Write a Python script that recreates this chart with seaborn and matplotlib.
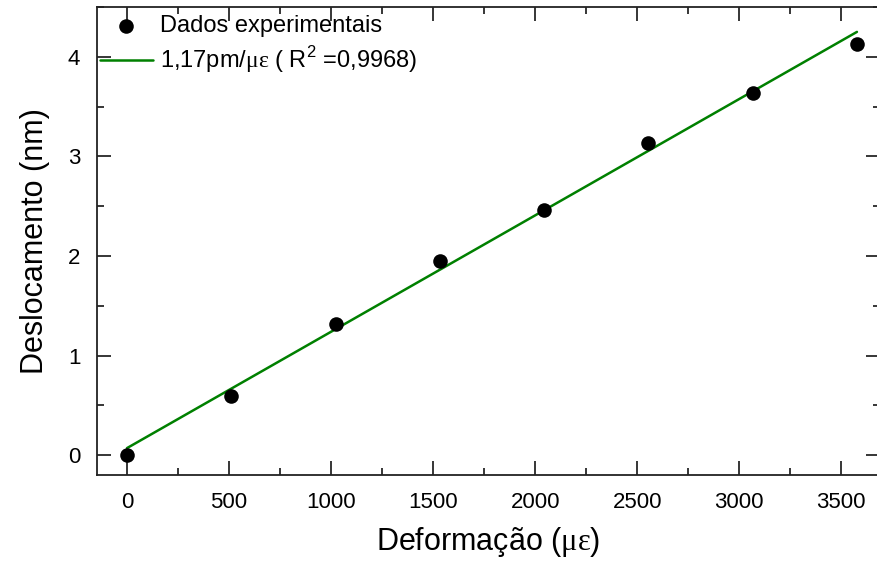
import matplotlib
matplotlib.use("Agg")
import matplotlib.pyplot as plt
import seaborn as sns
import pandas as pd
from matplotlib.ticker import MultipleLocator

sns.set_theme(style="ticks")
plt.rcParams['font.family'] = ['Liberation Sans', 'DejaVu Sans']
plt.rcParams['text.color'] = 'black'
plt.rcParams['axes.labelcolor'] = 'black'
plt.rcParams['mathtext.fontset'] = 'custom'
plt.rcParams['mathtext.rm'] = 'Liberation Serif'
plt.rcParams['mathtext.sf'] = 'Liberation Sans'

deformacao = [0, 511, 1022, 1533, 2044, 2555, 3066, 3577]
deslocamento = [0.00, 0.59, 1.32, 1.95, 2.46, 3.13, 3.64, 4.13]
fit_x = [0, 3577]
fit_y = [0.07, 4.25]

df = pd.DataFrame({"x": deformacao, "y": deslocamento})
fit = pd.DataFrame({"x": fit_x, "y": fit_y})

fig = plt.figure(figsize=(8.77, 5.61), dpi=100)
ax = fig.add_axes([97/877, 86/561, 783/877, 468/561])

sns.lineplot(data=fit, x="x", y="y", ax=ax, color="#008000", lw=1.8,
             label=r"1,17pm/$\mathrm{με}$ ( R$^\mathsf{2}$ =0,9968)")
sns.scatterplot(data=df, x="x", y="y", ax=ax, color="black", s=110,
                edgecolor="black", linewidth=0, label="Dados experimentais", zorder=3)

ax.set_xlim(-147, 3690)
ax.set_ylim(-0.2, 4.5)
ax.xaxis.set_major_locator(MultipleLocator(500))
ax.xaxis.set_minor_locator(MultipleLocator(250))
ax.yaxis.set_major_locator(MultipleLocator(1))
ax.yaxis.set_minor_locator(MultipleLocator(0.5))
ax.tick_params(which="both", direction="in", top=True, right=True, colors="black",
               labelcolor="black", labelsize=16, width=1.1)
ax.tick_params(which="major", length=10, pad=12)
ax.tick_params(which="minor", length=5)
for s in ax.spines.values():
    s.set_linewidth(1.3)
    s.set_color("#222222")

ax.set_xlabel(r"Deformação ($\mathrm{με}$)", fontsize=22, labelpad=9)
ax.set_ylabel("Deslocamento (nm)", fontsize=22, labelpad=13)

h, l = ax.get_legend_handles_labels()
leg = ax.legend(h[::-1], l[::-1], loc="upper left", frameon=False, fontsize=17,
                borderaxespad=0.0, handlelength=2.25, handletextpad=0.3,
                labelspacing=0.3, borderpad=0.35, bbox_to_anchor=(-0.007, 1.0))
for t in leg.get_texts():
    t.set_color("black")

fig.savefig("out.png", dpi=100)
